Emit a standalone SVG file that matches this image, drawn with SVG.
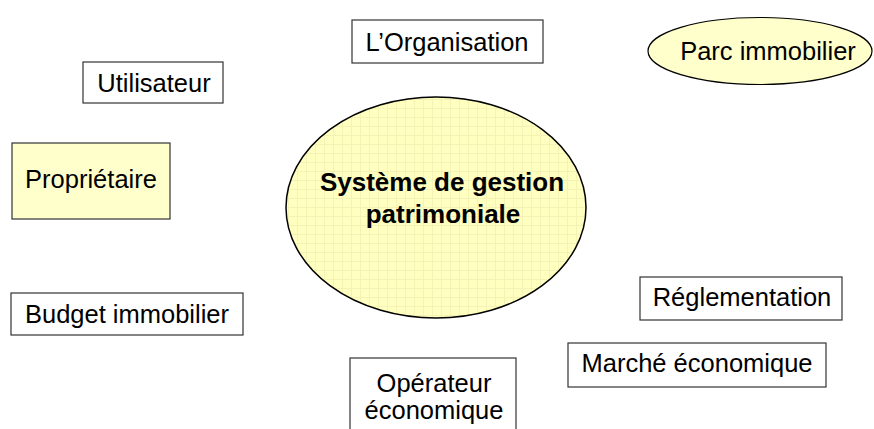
<svg xmlns="http://www.w3.org/2000/svg" width="874" height="429" viewBox="0 0 874 429">
<style>
.box{fill:#ffffff;stroke:#333333;stroke-width:1.2}
.ybox{fill:#ffffcc;stroke:#333333;stroke-width:1.2}
.ell{fill:#ffffcc;stroke:#000000;stroke-width:1.2}
.t{font-family:"Liberation Sans",Arial,sans-serif;font-size:25.5px;fill:#000;text-anchor:middle}
.b{font-family:"Liberation Sans",Arial,sans-serif;font-size:26px;font-weight:bold;fill:#000;text-anchor:middle}
</style>
<defs>
<pattern id="grid" width="9" height="9" patternUnits="userSpaceOnUse">
<rect width="9" height="9" fill="#ffffc0"/>
<path d="M0 0.5H9M0.5 0V9" stroke="#f4f2b4" stroke-width="1" fill="none"/>
</pattern>
</defs>
<rect width="874" height="429" fill="#ffffff"/>
<g id="connectors"></g>
<g id="systeme">
<ellipse cx="436" cy="207.5" rx="150" ry="110.5" fill="url(#grid)" stroke="#000" stroke-width="1.5"/>
<text class="b" x="442" y="191">Système de gestion</text>
<text class="b" x="443" y="223">patrimoniale</text>
</g>
<g id="organisation">
<rect class="box" x="352" y="20" width="191" height="43"/>
<text class="t" x="447" y="51">L’Organisation</text>
</g>
<g id="parc">
<ellipse class="ell" cx="760" cy="51" rx="112" ry="33.5"/>
<text class="t" x="768" y="60">Parc immobilier</text>
</g>
<g id="utilisateur">
<rect class="box" x="83" y="62" width="140" height="41"/>
<text class="t" x="154" y="92">Utilisateur</text>
</g>
<g id="proprietaire">
<rect class="ybox" x="12" y="143" width="158" height="76"/>
<text class="t" x="91" y="188">Propriétaire</text>
</g>
<g id="budget">
<rect class="box" x="11" y="293" width="232" height="42"/>
<text class="t" x="127" y="323">Budget immobilier</text>
</g>
<g id="reglementation">
<rect class="box" x="640" y="277" width="202" height="43"/>
<text class="t" x="742" y="306">Réglementation</text>
</g>
<g id="marche">
<rect class="box" x="568" y="343" width="258" height="44"/>
<text class="t" x="697" y="372">Marché économique</text>
</g>
<g id="operateur">
<rect class="box" x="350" y="358" width="166" height="80"/>
<text class="t" x="434" y="392">Opérateur</text>
<text class="t" x="434" y="419">économique</text>
</g>
</svg>
